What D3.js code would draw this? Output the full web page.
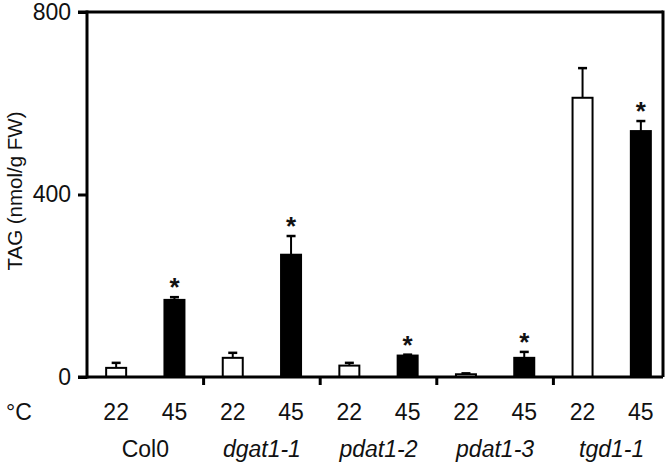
<!DOCTYPE html>
<html>
<head>
<meta charset="utf-8">
<script src="https://cdn.jsdelivr.net/npm/d3@7"></script>
<style>
  body { margin: 0; background: #fff; }
  text { font-family: Arial, "Liberation Sans", sans-serif; fill: #111; }
</style>
</head>
<body>
<svg id="chart" width="669" height="464"></svg>
<script>
// data
const lines = ["Col0", "dgat1-1", "pdat1-2", "pdat1-3", "tgd1-1"];
const temps = ["22", "45"];
const tag22 = [20, 42, 25, 6, 612];
const err22 = [11, 11, 6, 2, 65];
const tag45 = [169, 268, 47, 42, 539];
const err45 = [6, 41, 2, 13, 22];
const signif45 = [true, true, true, true, true];
const yTicks = [0, 400, 800];

const svg = d3.select("#chart");
const plotLeft = 87, plotRight = 670, plotTop = 12, plotBottom = 377, frameRight = 663;
const fs = 23;

const y = d3.scaleLinear().domain([0, 800]).range([plotBottom, plotTop]);
const x = d3.scaleBand().domain(lines).range([plotLeft, plotRight]);
const xt = d3.scalePoint().domain(temps).range([0, x.bandwidth()]).padding(0.5);
const barW = 20;

let bars = [];
lines.forEach((g, i) => {
    bars.push({line: g, temp: "22", v: tag22[i], e: err22[i], star: false});
    bars.push({line: g, temp: "45", v: tag45[i], e: err45[i], star: signif45[i]});
});
const cx = d => x(d.line) + xt(d.temp);

// frame: top, right
svg.append("line").attr("x1", plotLeft - 9).attr("x2", frameRight).attr("y1", y(800)).attr("y2", y(800))
    .attr("stroke", "#000").attr("stroke-width", 3);
svg.append("line").attr("x1", frameRight).attr("x2", frameRight).attr("y1", y(800) - 1.5).attr("y2", y(0))
    .attr("stroke", "#000").attr("stroke-width", 3);

// bars
svg.selectAll(".bar")
    .data(bars)
    .enter().append("rect")
    .attr("class", "bar")
    .attr("x", d => cx(d) - barW / 2)
    .attr("y", d => y(d.v))
    .attr("width", barW)
    .attr("height", d => y(0) - y(d.v))
    .attr("fill", d => d.temp === "22" ? "#fff" : "#000")
    .attr("stroke", "#000")
    .attr("stroke-width", 2);

// error bars (upward only)
let err = svg.selectAll(".err").data(bars).enter().append("g").attr("class", "err");
err.append("line")
    .attr("x1", cx).attr("x2", cx)
    .attr("y1", d => y(d.v)).attr("y2", d => y(d.v + d.e))
    .attr("stroke", "#000").attr("stroke-width", 2);
err.append("line")
    .attr("x1", d => cx(d) - 4.5).attr("x2", d => cx(d) + 4.5)
    .attr("y1", d => y(d.v + d.e)).attr("y2", d => y(d.v + d.e))
    .attr("stroke", "#000").attr("stroke-width", 2.5);

// asterisks
svg.selectAll(".star")
    .data(bars.filter(d => d.star))
    .enter().append("text")
    .attr("class", "star")
    .attr("x", cx)
    .attr("y", d => y(d.v + d.e) - 1)
    .attr("text-anchor", "middle")
    .attr("font-size", 26)
    .attr("font-weight", "bold")
    .text("*");

// zero line + group separators
svg.append("line").attr("x1", plotLeft - 9).attr("x2", frameRight).attr("y1", y(0)).attr("y2", y(0))
    .attr("stroke", "#000").attr("stroke-width", 3);
svg.selectAll(".sep")
    .data(lines.slice(1))
    .enter().append("line")
    .attr("class", "sep")
    .attr("x1", d => x(d)).attr("x2", d => x(d))
    .attr("y1", y(0)).attr("y2", y(0) + 8)
    .attr("stroke", "#000").attr("stroke-width", 3);

// y axis
let yAxis = svg.append("g")
    .attr("transform", `translate(${plotLeft},0)`)
    .call(d3.axisLeft(y).tickValues(yTicks).tickSize(9).tickPadding(7).tickFormat(d3.format("d")));
yAxis.attr("font-size", fs).attr("font-family", null);
yAxis.select(".domain").attr("stroke-width", 3).attr("d", `M0,${y(800) - 1.5}V${y(0) + 1.5}`);
yAxis.selectAll(".tick line").attr("stroke-width", 3);
yAxis.selectAll(".tick text").attr("fill", "#111");

svg.append("text")
    .attr("transform", "translate(22,191) rotate(-90)")
    .attr("text-anchor", "middle")
    .attr("font-size", 20.5)
    .text("TAG (nmol/g FW)");

// x labels
svg.append("text").attr("x", 6).attr("y", 420).attr("font-size", fs).text("°C");
svg.selectAll(".temp")
    .data(bars)
    .enter().append("text")
    .attr("class", "temp")
    .attr("x", cx)
    .attr("y", 420)
    .attr("text-anchor", "middle")
    .attr("font-size", fs)
    .text(d => d.temp);
svg.selectAll(".line-label")
    .data(lines)
    .enter().append("text")
    .attr("class", "line-label")
    .attr("x", d => x(d) + x.bandwidth() / 2)
    .attr("y", 457)
    .attr("text-anchor", "middle")
    .attr("font-size", fs)
    .attr("font-style", d => d === "Col0" ? "normal" : "italic")
    .text(d => d);
</script>
</body>
</html>
